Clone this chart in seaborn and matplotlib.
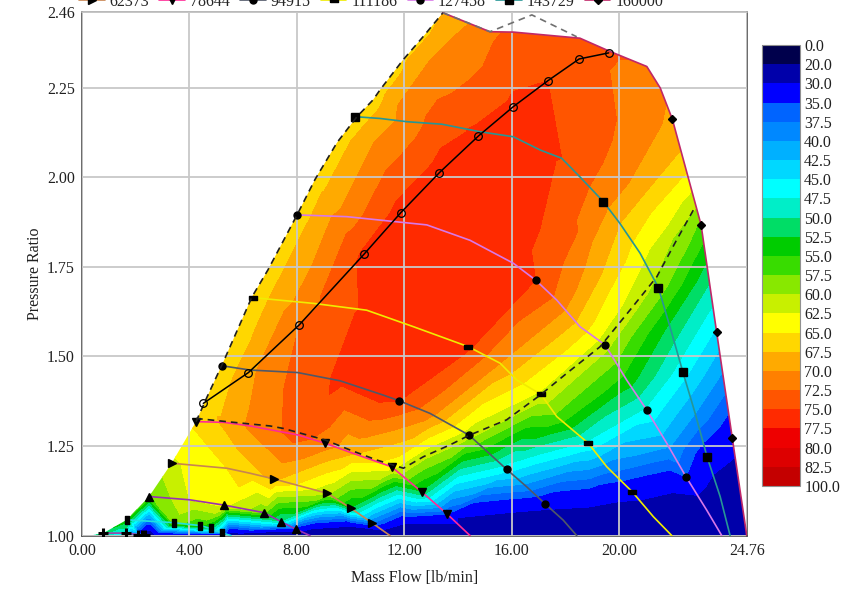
import numpy as np
import matplotlib
matplotlib.use('Agg')
import matplotlib.pyplot as plt
import matplotlib.tri as mtri
from matplotlib.path import Path
from matplotlib.patches import PathPatch
from matplotlib.lines import Line2D
import seaborn as sns

sns.set_theme(style='white')
plt.rcParams['font.family'] = ['Liberation Serif', 'DejaVu Serif']

# ---------------- data ----------------
# efficiency colour scale
levels = [0, 20, 30, 35, 37.5, 40, 42.5, 45, 47.5, 50, 52.5, 55, 57.5, 60, 62.5,
          65, 67.5, 70, 72.5, 75, 77.5, 80, 82.5, 100]
band_colors = ['#00004c', '#0000aa', '#0000ff', '#0064ff', '#0088ff', '#00b0ff',
               '#00d8ff', '#00ffff', '#00eec8', '#00dd66', '#00cc00', '#38dc00',
               '#88e800', '#c8f000', '#ffff00', '#ffd700', '#ffaa00', '#ff8000',
               '#ff5500', '#ff2a00', '#ee0000', '#dd0000', '#c40000']

flow_13560 = [0.80, 1.63, 2.09, 2.23, 2.34]
pr_13560 = [1.007, 1.007, 1.003, 1.002, 1.002]
eff_13560 = [51, 48, 40, 32, 27]

flow_29831 = [1.67, 3.43, 4.40, 4.79, 5.20, 5.55]
pr_29831 = [1.044, 1.036, 1.028, 1.020, 1.008, 1.0]
eff_29831 = [54.5, 58.5, 55.5, 51, 40, 26]

flow_46102 = [2.50, 4.00, 5.30, 6.78, 7.41, 7.97, 8.49]
pr_46102 = [1.109, 1.100, 1.085, 1.064, 1.039, 1.018, 1.0]
eff_46102 = [57, 62.5, 63, 58, 49, 33, 24]

flow_62373 = [3.34, 5.39, 6.26, 7.15, 9.14, 10.02, 10.79, 11.47]
pr_62373 = [1.202, 1.188, 1.174, 1.158, 1.118, 1.076, 1.036, 1.0]
eff_62373 = [62, 65, 66.5, 68, 60.5, 52, 38, 24]

flow_78644 = [4.25, 5.30, 6.26, 8.03, 9.05, 10.0, 11.53, 12.65, 13.60, 14.45]
pr_78644 = [1.318, 1.316, 1.306, 1.281, 1.258, 1.232, 1.192, 1.122, 1.060, 1.0]
eff_78644 = [65.5, 68, 70.5, 73.5, 71.5, 68, 63.5, 52, 35, 24]

flow_94915 = [5.20, 6.26, 8.03, 9.61, 11.22, 11.82, 12.96, 14.42, 15.81, 16.56, 17.24, 17.92, 18.42]
pr_94915 = [1.474, 1.462, 1.455, 1.432, 1.392, 1.376, 1.341, 1.280, 1.185, 1.136, 1.089, 1.043, 1.0]
eff_94915 = [66, 69, 73.3, 75.5, 76, 75, 71, 61, 46, 39, 32, 26, 24]

flow_111186 = [6.38, 8.62, 10.6, 12.34, 14.39, 15.57, 16.19, 17.09, 17.68, 18.85, 19.54, 20.49, 21.27, 21.96]
pr_111186 = [1.664, 1.648, 1.629, 1.583, 1.527, 1.481, 1.434, 1.394, 1.332, 1.258, 1.192, 1.122, 1.053, 1.0]
eff_111186 = [65.5, 72, 75.5, 76.5, 75.5, 70, 66, 62, 57, 47, 39, 32, 26, 24]

flow_127458 = [8.0, 9.86, 12.84, 14.45, 16.06, 16.89, 17.68, 18.54, 19.48, 20.28, 21.03, 21.77, 22.49, 23.26, 23.82]
pr_127458 = [1.895, 1.890, 1.867, 1.824, 1.760, 1.713, 1.657, 1.583, 1.532, 1.434, 1.350, 1.258, 1.164, 1.071, 1.0]
eff_127458 = [66, 71, 76.5, 76.5, 76, 75, 72, 66.5, 61, 54, 47, 41, 35, 26, 24]

flow_143729 = [10.17, 11.10, 12.1, 13.4, 14.82, 16.06, 17.06, 17.86, 18.54, 19.41, 20.03, 20.78,
               21.46, 21.89, 22.37, 22.83, 23.28, 23.76, 24.13]
pr_143729 = [2.169, 2.164, 2.155, 2.148, 2.127, 2.113, 2.076, 2.053, 2.001, 1.932, 1.871, 1.788,
             1.692, 1.583, 1.457, 1.341, 1.218, 1.109, 1.0]
eff_143729 = [66, 68.5, 71, 74, 75.5, 76, 76, 75, 73.5, 71, 67.5, 63.5, 59, 52, 46, 40, 32.5, 26, 24]

flow_160000 = [13.44, 15.19, 16.07, 18.54, 19.66, 21.03, 21.53, 21.98, 23.05, 23.63, 24.21, 24.75]
pr_160000 = [2.459, 2.406, 2.405, 2.388, 2.351, 2.309, 2.249, 2.162, 1.867, 1.567, 1.273, 1.0]
eff_160000 = [67.5, 72, 73, 73.5, 73, 72, 70.5, 69.5, 57, 44.5, 32, 24]

# surge line (dashed)
surge_flow = [4.25, 4.66, 5.25, 6.33, 6.93, 8.01, 8.68, 9.50, 10.24, 10.84, 11.10, 11.95, 12.70, 13.44]
surge_pr = [1.318, 1.387, 1.482, 1.666, 1.742, 1.895, 1.994, 2.097, 2.169, 2.216, 2.244, 2.327, 2.392, 2.459]
surge_eff = [65.5, 65.5, 66, 66, 66, 66, 66, 66, 66, 66, 66.5, 66.5, 67, 67.5]

# peak efficiency line (open circles)
peak_flow = [4.52, 6.20, 8.09, 10.50, 11.87, 13.31, 14.76, 16.06, 17.34, 18.51, 19.61]
peak_pr = [1.369, 1.455, 1.588, 1.785, 1.901, 2.013, 2.115, 2.197, 2.269, 2.330, 2.347]
peak_eff = [66.5, 69, 72.5, 75.5, 76, 76, 75.5, 75.5, 75, 73.7, 73]

# second dashed line
dash_flow = [4.25, 5.39, 7.00, 7.50, 9.05, 9.98, 10.97, 11.97, 12.71, 13.70, 14.42, 15.81,
             17.06, 18.05, 19.29, 20.41, 21.40, 22.14, 22.76]
dash_pr = [1.327, 1.318, 1.306, 1.299, 1.267, 1.239, 1.211, 1.188, 1.220, 1.253, 1.280, 1.323,
           1.392, 1.453, 1.527, 1.630, 1.722, 1.825, 1.908]

# grey dashed line at the top
top_dash_flow = [13.44, 15.19, 16.75, 18.42]
top_dash_pr = [2.459, 2.406, 2.453, 2.392]

# extra efficiency readings: bands inside the surge line
inner_flow = [5.80, 6.95, 8.55, 10.00, 12.10, 12.96, 6.50, 9.30, 10.90, 11.75, 12.96, 13.96]
inner_pr = [1.470, 1.660, 1.895, 2.100, 2.327, 2.400, 1.460, 1.890, 2.100, 2.200, 2.327, 2.400]
inner_eff = [67.5, 67.5, 67.5, 67.5, 67.5, 67.5, 70, 70, 70, 70, 70, 70]

# choke edge, bottom edge, top of the dark-blue zone
edge_flow = [22.25, 22.52, 22.78, 23.34, 23.92, 24.48]
edge_pr = [2.088, 2.014, 1.941, 1.717, 1.420, 1.137]
edge_eff = [68, 65, 61.5, 50.5, 38.5, 27]

bottom_flow = [0.30, 1.20, 1.90, 2.60]
bottom_pr = [1.0, 1.0, 1.0, 1.0]
bottom_eff = [49, 46, 36, 26]

low_flow = [10.0, 12.0, 14.0, 16.0, 18.9, 20.0, 22.0, 23.5]
low_pr = [1.026, 1.033, 1.050, 1.065, 1.080, 1.095, 1.120, 1.170]
low_eff = [30, 30, 30, 30, 30, 30, 30, 30]

xticks = [0.0, 4.0, 8.0, 12.0, 16.0, 20.0, 24.76]
yticks = [1.00, 1.25, 1.50, 1.75, 2.00, 2.25, 2.46]

# ---------------- styles ----------------
speed_lines = [
    ('13560', flow_13560, pr_13560, eff_13560, '#a040a8', '+', [0, 1, 2, 3, 4]),
    ('29831', flow_29831, pr_29831, eff_29831, '#20e0e0', 'vbar', [0, 1, 2, 3, 4]),
    ('46102', flow_46102, pr_46102, eff_46102, '#9a30b4', '^', [0, 2, 3, 4, 5]),
    ('62373', flow_62373, pr_62373, eff_62373, '#c88450', '>', [0, 3, 4, 5, 6]),
    ('78644', flow_78644, pr_78644, eff_78644, '#ff2a96', 'v', [0, 4, 6, 7, 8]),
    ('94915', flow_94915, pr_94915, eff_94915, '#505868', 'o', [0, 5, 7, 8, 10]),
    ('111186', flow_111186, pr_111186, eff_111186, '#f0ec00', 'hbar', [0, 4, 7, 9, 11]),
    ('127458', flow_127458, pr_127458, eff_127458, '#d878e8', 'o', [0, 5, 8, 10, 12]),
    ('143729', flow_143729, pr_143729, eff_143729, '#269696', 's', [0, 9, 12, 14, 16]),
    ('160000', flow_160000, pr_160000, eff_160000, '#c02868', 'D', [7, 8, 9, 10]),
]
marker_shapes = {
    'vbar': [(-0.38, -1), (0.38, -1), (0.38, 1), (-0.38, 1), (-0.38, -1)],
    'hbar': [(-1, -0.42), (1, -0.42), (1, 0.42), (-1, 0.42), (-1, -0.42)],
}
marker_sizes = {'+': 7, 'vbar': 6, '^': 6, '>': 6, 'v': 6, 'o': 5, 'hbar': 6, 's': 5.5, 'D': 4}

# ---------------- figure ----------------
fig = plt.figure(figsize=(8.46, 5.93), dpi=100)
ax = fig.add_axes([0.0968, 0.0968, 0.7862, 0.8823])
cax = fig.add_axes([0.9007, 0.1804, 0.0449, 0.7437])

# efficiency field from all readings (linear interpolation on a triangulation)
fx, fy, fz = [], [], []
for _, f, p, e, *_rest in speed_lines:
    fx += f; fy += p; fz += e
for f, p, e in [(surge_flow, surge_pr, surge_eff), (peak_flow, peak_pr, peak_eff),
                (inner_flow, inner_pr, inner_eff),
                (edge_flow, edge_pr, edge_eff), (bottom_flow, bottom_pr, bottom_eff),
                (low_flow, low_pr, low_eff)]:
    fx += f; fy += p; fz += e
fx = np.array(fx, float); fy = np.array(fy, float); fz = np.array(fz, float)
_, keep = np.unique(np.round(np.c_[fx, fy], 3), axis=0, return_index=True)
keep = np.sort(keep)
fx, fy, fz = fx[keep], fy[keep], fz[keep]

SX, SY = 26.86, 358.4   # pixel aspect of the plot, used for a well shaped triangulation
tri_s = mtri.Triangulation(fx * SX, fy * SY)
tri = mtri.Triangulation(fx, fy, tri_s.triangles)

cs = ax.tricontourf(tri, fz, levels=levels, colors=band_colors, zorder=1)

# clip to map outline
lower_starts = [(s[1][0], s[2][0]) for s in speed_lines[:4]]
outline = ([(bottom_flow[0], bottom_pr[0])] + lower_starts +
           list(zip(surge_flow, surge_pr)) + list(zip(flow_160000[1:], pr_160000[1:])) +
           [(bottom_flow[0], bottom_pr[0])])
patch = PathPatch(Path(outline), transform=ax.transData, facecolor='none', edgecolor='none')
ax.add_patch(patch)
cs.set_clip_path(patch)

# lines
handles = []
for name, f, p, e, col, mk, mev in speed_lines:
    m = marker_shapes.get(mk, mk)
    kw = dict(color=col, lw=1.2, marker=m, ms=marker_sizes[mk], mfc='black', mec='black')
    if mk == '+':
        kw['mew'] = 2.2
    ax.plot(f, p, markevery=mev, zorder=4, **kw)
    handles.append((Line2D([], [], **kw), name))

ax.plot(surge_flow, surge_pr, color='#202020', lw=1.2, ls=(0, (4, 3)), zorder=5)
ax.plot(dash_flow, dash_pr, color='#202020', lw=1.2, ls=(0, (4, 3)), zorder=5)
ax.plot(top_dash_flow, top_dash_pr, color='#707070', lw=1.2, ls=(0, (4, 3)), zorder=5)
ax.plot(peak_flow, peak_pr, color='black', lw=1.1, marker='o', ms=5.5, mfc='none',
        mec='black', mew=0.9, zorder=6)

# axes styling
ax.set_xlim(0, 24.76)
ax.set_ylim(1.0, 2.46)
ax.set_xticks(xticks)
ax.set_xticklabels([f'{v:.2f}' for v in xticks])
ax.set_yticks(yticks)
ax.set_yticklabels([f'{v:.2f}' for v in yticks])
ax.set_axisbelow(False)
ax.grid(True, color='#c8c8c8', lw=1.3)
ax.tick_params(direction='in', length=4, width=1, color='#404040', labelsize=11.5,
               labelcolor='#202020', pad=5)
for side in ['left', 'bottom', 'right']:
    ax.spines[side].set_color('#505050')
    ax.spines[side].set_linewidth(1.2)
ax.spines['top'].set_color('#b0b0b0')
ax.set_xlabel('Mass Flow [lb/min]', fontsize=11.5, color='#202020', labelpad=8)
ax.set_ylabel('Pressure Ratio', fontsize=11.5, color='#202020', labelpad=3)

# colour bar
cb = fig.colorbar(cs, cax=cax, ticks=levels, spacing='uniform')
cb.set_ticklabels([f'{v:.1f}' for v in levels])
cax.invert_yaxis()
cax.tick_params(length=0, labelsize=11.5, pad=3, labelcolor='#202020')
cb.outline.set_edgecolor('#909090')
cb.outline.set_linewidth(0.8)

# legend (top row, partly outside the figure as in the source)
visible = handles[3:]
fig.legend([h for h, _ in visible], [n for _, n in visible], loc='center left',
           bbox_to_anchor=(0.086, 0.9965), ncol=7, frameon=False, fontsize=11.5,
           handlelength=1.6, handletextpad=0.3, columnspacing=0.65, borderaxespad=0)

fig.savefig('out.png', dpi=100)
